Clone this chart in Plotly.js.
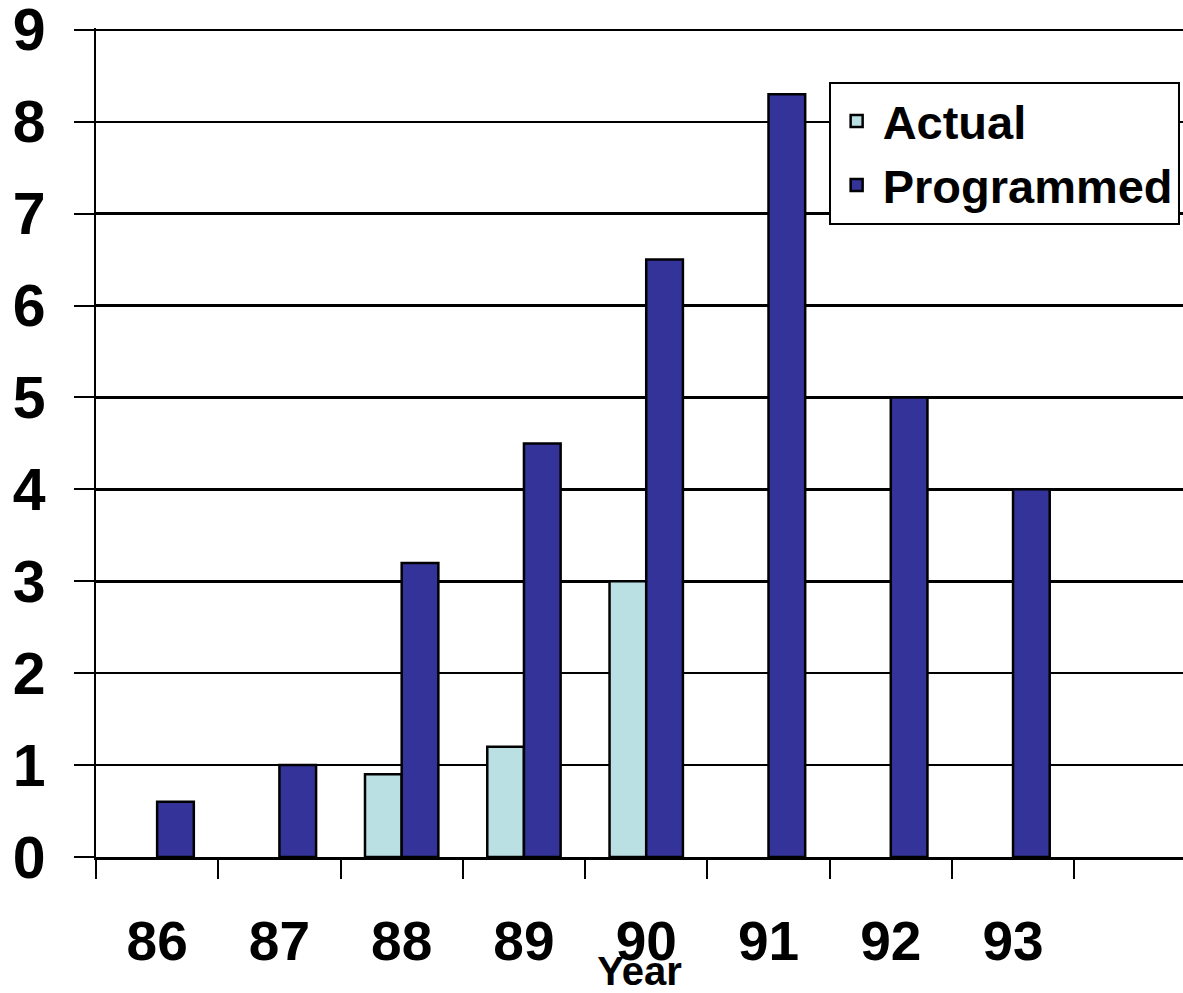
<!DOCTYPE html>
<html>
<head>
<meta charset="utf-8">
<script src="https://cdn.plot.ly/plotly-3.0.1.min.js"></script>
<style>html,body{margin:0;padding:0;background:#fff;}#chart{width:1183px;height:993px;}</style>
</head>
<body>
<div id="chart"></div>
<script>
const years = ['86','87','88','89','90','91','92','93'];
const actual = [null, null, 0.9, 1.2, 3.0, null, null, null];
const programmed = [0.6, 1.0, 3.2, 4.5, 6.5, 8.3, 5.0, 4.0];
const yTicks = [0,1,2,3,4,5,6,7,8,9];

const FONT = 'Arial, "Liberation Sans", Helvetica, sans-serif';

const traces = [
  {type:'bar', name:'Actual', x:years, y:actual,
   marker:{color:'#BBE0E3', line:{color:'#000', width:2.5}}},
  {type:'bar', name:'Programmed', x:years, y:programmed,
   marker:{color:'#333399', line:{color:'#000', width:2.5}}}
];

const layout = {
  width:1183, height:993,
  margin:{l:96, r:0, t:28, b:136},
  paper_bgcolor:'#fff', plot_bgcolor:'#fff',
  font:{family:FONT, color:'#000'},
  barmode:'group', bargap:0.4, bargroupgap:0,
  showlegend:true,
  legend:{x:0.674, y:0.935, xanchor:'left', yanchor:'top',
    bgcolor:'#fff', bordercolor:'#000', borderwidth:2,
    itemwidth:42,
    font:{family:FONT, size:47, color:'#000', weight:'bold'},
    tracegroupgap:0},
  xaxis:{type:'category', categoryorder:'array', categoryarray:years,
    range:[-0.5, 8.39], tickson:'boundaries',
    ticks:'outside', ticklen:19, tickwidth:2, tickcolor:'#000',
    showline:true, linecolor:'#000', linewidth:2.5,
    showgrid:false, zeroline:false, automargin:false,
    ticklabelstandoff:34, ticklabeloverflow:'allow',
    tickfont:{family:FONT, size:55, color:'#000', weight:'bold'},
    title:{text:'Year', standoff:0, font:{family:FONT, size:40, color:'#000', weight:'bold'}}},
  yaxis:{range:[0,9.02], tickvals:yTicks, ticktext:yTicks.map(String),
    ticks:'outside', ticklen:20, tickwidth:2, tickcolor:'#000',
    showline:true, linecolor:'#000', linewidth:2.5,
    showgrid:true, gridcolor:'#000', gridwidth:2.5, zeroline:false,
    automargin:false, ticklabelstandoff:16, ticklabeloverflow:'allow',
    tickfont:{family:FONT, size:59, color:'#000', weight:'bold'}}
};

Plotly.newPlot('chart', traces, layout, {displayModeBar:false, staticPlot:true});
</script>
</body>
</html>
